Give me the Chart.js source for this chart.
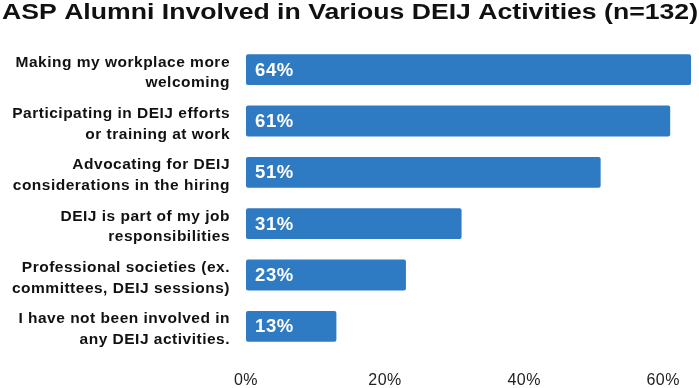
<!DOCTYPE html>
<html>
<head>
<meta charset="utf-8">
<script src="https://cdn.jsdelivr.net/npm/chart.js@4"></script>
<style>
  body { margin: 0; background: #fff; }
  #wrap { width: 699px; height: 388px; }
</style>
</head>
<body>
<div id="wrap"><canvas id="chart" width="699" height="388"></canvas></div>
<script>
const chartTitle = 'ASP Alumni Involved in Various DEIJ Activities (n=132)';
// activity categories (two-line labels as in the original)
const activities = [
  ['Making my workplace more', 'welcoming'],
  ['Participating in DEIJ efforts', 'or training at work'],
  ['Advocating for DEIJ', 'considerations in the hiring'],
  ['DEIJ is part of my job', 'responsibilities'],
  ['Professional societies (ex.', 'committees, DEIJ sessions)'],
  ['I have not been involved in', 'any DEIJ activities.']
];
const percentInvolved = [64, 61, 51, 31, 23, 13];
const xTicks = [0, 20, 40, 60];

const barBlue = '#2e7bc4';
const fontFamily = '"Liberation Sans", Arial, sans-serif';

// the source picture is slightly stretched sideways, so text gets a little spacing
const textSpacing = {
  id: 'textSpacing',
  beforeDraw(chart) { chart.ctx.letterSpacing = '0.5px'; },
  afterDraw(chart) { chart.ctx.letterSpacing = '0px'; }
};

// wide bold title at the top left
const wideTitle = {
  id: 'wideTitle',
  afterDraw(chart) {
    const ctx = chart.ctx;
    ctx.save();
    ctx.letterSpacing = '0px';
    ctx.fillStyle = '#111';
    ctx.font = 'bold 22px ' + fontFamily;
    ctx.textBaseline = 'alphabetic';
    ctx.translate(2, 18.5);
    ctx.scale(1.21, 1);
    ctx.fillText(chartTitle, 0, 0);
    ctx.restore();
  }
};

// write the percentage inside each bar, near its left end
const insideLabels = {
  id: 'insideLabels',
  afterDatasetsDraw(chart) {
    const ctx = chart.ctx;
    const meta = chart.getDatasetMeta(0);
    ctx.save();
    ctx.letterSpacing = '0.6px';
    ctx.fillStyle = '#fff';
    ctx.font = 'bold 18.5px ' + fontFamily;
    ctx.textBaseline = 'middle';
    meta.data.forEach((bar, i) => {
      ctx.fillText(percentInvolved[i] + '%', bar.base + 9, bar.y + 1);
    });
    ctx.restore();
  }
};

new Chart(document.getElementById('chart'), {
  type: 'bar',
  data: {
    labels: activities,
    datasets: [{
      data: percentInvolved,
      backgroundColor: barBlue,
      borderRadius: 2,
      borderSkipped: false,
      barPercentage: 0.6,
      categoryPercentage: 1
    }]
  },
  options: {
    indexAxis: 'y',
    responsive: false,
    animation: false,
    layout: { autoPadding: false, padding: { left: 0, right: 1, top: 44, bottom: 0 } },
    scales: {
      x: {
        min: 0,
        max: 65,
        grid: { display: false },
        border: { display: false },
        afterBuildTicks: (scale) => {
          scale.ticks = xTicks.map(v => ({ value: v }));
        },
        afterFit: (scale) => { scale.height = 36; },
        ticks: {
          padding: 11,
          color: '#222',
          font: { family: fontFamily, size: 16 },
          callback: (v) => v + '%'
        }
      },
      y: {
        grid: { display: false },
        border: { display: false },
        afterFit: (scale) => { scale.width = 246; },
        ticks: {
          padding: 8,
          labelOffset: 3,
          color: '#111',
          font: { family: fontFamily, size: 15.5, weight: 'bold', lineHeight: 1.32 }
        }
      }
    },
    plugins: {
      legend: { display: false },
      tooltip: { enabled: false },
      title: { display: false }
    }
  },
  plugins: [textSpacing, insideLabels, wideTitle]
});
</script>
</body>
</html>
